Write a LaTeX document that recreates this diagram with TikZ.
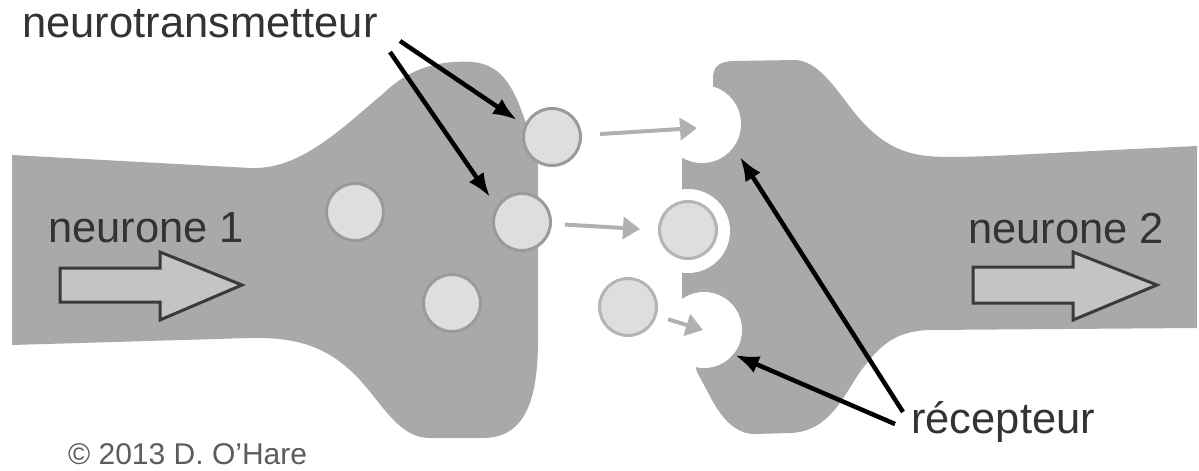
\documentclass[tikz,border=0pt]{standalone}
\usepackage{fontspec}
\setmainfont{Liberation Sans}
\usetikzlibrary{arrows.meta}

\definecolor{cellgray}{HTML}{A9A9A9}
\definecolor{vesfill}{HTML}{DEDEDE}
\definecolor{vesring}{HTML}{9A9A9A}
\definecolor{vesringout}{HTML}{B4B4B4}
\definecolor{flowgray}{HTML}{B0B0B0}
\definecolor{inkgray}{HTML}{333333}
\definecolor{dirfill}{HTML}{C4C4C4}
\definecolor{diredge}{HTML}{3A3A3A}

\begin{document}
\begin{tikzpicture}[x=1pt,y=-1pt,
  neuron/.style={fill=cellgray, draw=none},
  notch/.style={fill=white, draw=none},
  vesicle/.style={circle, minimum size=57pt, inner sep=0pt, fill=vesfill, draw=vesring, line width=3pt},
  freevesicle/.style={vesicle, draw=vesringout},
  txtlabel/.style={inner sep=0pt, anchor=base west, text=inkgray, font=\fontsize{43.5}{48}\selectfont},
  pointer/.style={draw=black, line width=4.5pt, -{Latex[length=24pt,width=18pt]}},
  flow/.style={draw=flowgray, line width=4pt, -{Triangle[length=17pt,width=22pt]}},
  dirarrow/.style={fill=dirfill, draw=diredge, line width=3pt},
]
\useasboundingbox (0,0) rectangle (1199,471);

% presynaptic neuron: axon and terminal
\path[neuron] (12,155) -- (250,168)
  .. controls (300,170) and (340,130) .. (385,92)
  .. controls (410,68) and (440,60) .. (472,62)
  .. controls (500,64) and (512,85) .. (522,112)
  .. controls (530,135) and (538,150) .. (538,170)
  -- (538,340)
  .. controls (538,400) and (525,438) .. (483,438)
  -- (430,438)
  .. controls (400,438) and (385,408) .. (360,380)
  .. controls (330,348) and (300,337) .. (250,338)
  -- (12,345) -- cycle;

% postsynaptic neuron: dendrite head and axon
\path[neuron] (713,100) -- (713,78)
  .. controls (713,66) and (720,61) .. (735,61)
  -- (795,60)
  .. controls (815,61) and (830,80) .. (850,107)
  .. controls (870,133) and (890,150) .. (920,155)
  .. controls (950,160) and (1000,155) .. (1197,146)
  -- (1197,328) -- (930,330)
  .. controls (895,331) and (880,345) .. (860,372)
  .. controls (845,393) and (830,432) .. (790,433)
  -- (755,434)
  .. controls (735,434) and (722,418) .. (712,400)
  -- (697,372) -- (690,345) -- (682,310) -- (682,130) -- cycle;

% receptor sites cut into the membrane
\fill[notch] (702,124) circle[radius=39];
\fill[notch] (688,231) circle[radius=42];
\fill[notch] (704,330) circle[radius=38];

% vesicles
\node[vesicle] (vA) at (355,212) {};
\node[vesicle] (vB) at (452,303) {};
\node[vesicle] (vC) at (522,222) {};
\node[vesicle] (vD) at (552,137) {};
\node[freevesicle] (vE) at (688,230) {};
\node[freevesicle] (vF) at (628,307) {};

% direction of the signal
\path[dirarrow] (60,268) -- (160,268) -- (160,252) -- (242,285) -- (160,320) -- (160,302) -- (60,302) -- cycle;
\path[dirarrow] (973,267) -- (1073,267) -- (1073,252) -- (1157,285) -- (1073,320) -- (1073,303) -- (973,303) -- cycle;

% labels
\node[txtlabel] (nt) at (22,37) {neurotransmetteur};
\node[txtlabel] (n1) at (48,242) {neurone 1};
\node[txtlabel] (n2) at (968,243) {neurone 2};
\node[txtlabel] (rc) at (911,433) {récepteur};
\node[inner sep=0pt, anchor=base west, text=inkgray!80, font=\fontsize{30}{34}\selectfont] (copy) at (68,464) {© 2013 D. O'Hare};

% release of transmitter towards the receptors
\coordinate (rec1) at (697,128);
\coordinate (rec2) at (640,229);
\coordinate (rec3) at (703,330);
\draw[flow, shorten <=48pt] (vD.center) -- (rec1);
\draw[flow, shorten <=43pt] (vC.center) -- (rec2);
\draw[flow, shorten <=42pt] (vF.center) -- (rec3);

% pointers from the labels
\coordinate (ntA) at (400,41);
\coordinate (ntB) at (390,52);
\coordinate (rcA) at (903,412);
\coordinate (rcB) at (895,424);
\coordinate (tipA) at (517,120);
\coordinate (tipB) at (490,197);
\coordinate (tipC) at (740,157);
\coordinate (tipD) at (735,355);
\draw[pointer] (ntA) -- (tipA);
\draw[pointer] (ntB) -- (tipB);
\draw[pointer] (rcA) -- (tipC);
\draw[pointer] (rcB) -- (tipD);
\end{tikzpicture}
\end{document}
